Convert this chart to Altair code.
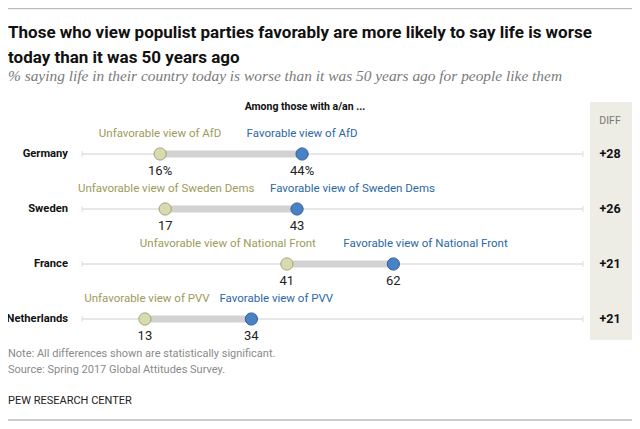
import altair as alt
import pandas as pd

countries = ["Germany", "Sweden", "France", "Netherlands"]
parties = ["AfD", "Sweden Dems", "National Front", "PVV"]
unfav = [16, 17, 41, 13]
fav = [44, 43, 62, 34]

# label placement: alignment and pixel nudge from the dot
unfav_align = ["center", "center", "right", "center"]
unfav_nudge = [0, 1, 29, 2]
fav_align = ["center", "left", "left", "left"]
fav_nudge = [0, -27, -50, -32]

title_lines = ["Those who view populist parties favorably are more likely to say life is worse",
               "today than it was 50 years ago"]
subtitle = "% saying life in their country today is worse than it was 50 years ago for people like them"
header = "Among those with a/an ..."
diff_header = "DIFF"
notes = ["Note: All differences shown are statistically significant.",
         "Source: Spring 2017 Global Attitudes Survey."]
credit = "PEW RESEARCH CENTER"

X0, X1 = 71, 578          # pixel range of 0..100
PX = (X1 - X0) / 100.0

df = pd.DataFrame({"country": countries, "party": parties, "unfav": unfav, "fav": fav})
df["unfav_txt"] = [f"{v}%" if i == 0 else str(v) for i, v in enumerate(unfav)]
df["fav_txt"] = [f"{v}%" if i == 0 else str(v) for i, v in enumerate(fav)]
df["diff"] = [f"+{f - u}" for u, f in zip(unfav, fav)]

lab_rows = []
for i, c in enumerate(countries):
    lab_rows.append({"country": c, "grp": "unfav", "t": "Unfavorable view of " + parties[i],
                     "x": unfav[i] + unfav_nudge[i] / PX, "align": unfav_align[i]})
    lab_rows.append({"country": c, "grp": "fav", "t": "Favorable view of " + parties[i],
                     "x": fav[i] + fav_nudge[i] / PX, "align": fav_align[i]})
labs = pd.DataFrame(lab_rows)

FONT = "Roboto"
W, H = 624, 413

xs = alt.Scale(domain=[0, 100], range=[X0, X1])
ys = alt.Scale(type="point", domain=countries, range=[146, 311], padding=0)
Y = alt.Y("country:N", scale=ys, axis=None)

base = alt.Chart(df)

diff_bg = alt.Chart(pd.DataFrame({"a": [0]})).mark_rect(color="#eeede5").encode(
    x=alt.value(582), x2=alt.value(624), y=alt.value(94), y2=alt.value(332))

baseline = base.mark_rule(color="#d0d0d0", strokeWidth=1).encode(
    x=alt.X(datum=0.6, scale=xs, axis=None), x2=alt.datum(99.4), y=Y)
endticks_l = base.mark_tick(color="#d0d0d0", orient="vertical", size=6, thickness=1).encode(
    x=alt.X(datum=0.6, scale=xs, axis=None), y=Y)
endticks_r = base.mark_tick(color="#d0d0d0", orient="vertical", size=6, thickness=1).encode(
    x=alt.X(datum=99.4, scale=xs, axis=None), y=Y)

bar = base.mark_rule(color="#d2d2d2", strokeWidth=7).encode(
    x=alt.X("unfav:Q", scale=xs, axis=None), x2="fav:Q", y=Y)

pt_unfav = base.mark_point(filled=True, size=150, fill="#d8dbb2", stroke="#a3a565",
                           strokeWidth=1, opacity=1).encode(
    x=alt.X("unfav:Q", scale=xs, axis=None), y=Y)
pt_fav = base.mark_point(filled=True, size=150, fill="#4a80c4", stroke="#2d5f9c",
                         strokeWidth=1, opacity=1).encode(
    x=alt.X("fav:Q", scale=xs, axis=None), y=Y)

lab_layers = []
for al in ["center", "left", "right"]:
    lab_layers.append(
        alt.Chart(labs).transform_filter(alt.datum.align == al).mark_text(
            font=FONT, fontSize=11.5, dy=-17, baseline="alphabetic", align=al).encode(
            x=alt.X("x:Q", scale=xs, axis=None), y=Y, text="t:N",
            color=alt.Color("grp:N", scale=alt.Scale(domain=["unfav", "fav"],
                                                     range=["#9c9b5b", "#2a68a6"]), legend=None)))

val_unfav = base.mark_text(font=FONT, fontSize=13, color="#222222", dy=21, baseline="alphabetic").encode(
    x=alt.X("unfav:Q", scale=xs, axis=None), y=Y, text="unfav_txt:N")
val_fav = base.mark_text(font=FONT, fontSize=13, color="#222222", dy=21, baseline="alphabetic").encode(
    x=alt.X("fav:Q", scale=xs, axis=None), y=Y, text="fav_txt:N")

country_lab = base.mark_text(font=FONT, fontSize=11.2, fontWeight="bold", color="#111111",
                             align="right", baseline="middle").encode(
    x=alt.value(60), y=Y, text="country:N")
diff_lab = base.mark_text(font=FONT, fontSize=12.5, fontWeight="bold", color="#111111",
                          align="center", baseline="middle").encode(
    x=alt.value(602), y=Y, text="diff:N")


def static_text(lines, x, y0, dy, **kw):
    return alt.layer(*[
        alt.Chart(pd.DataFrame({"t": [ln]})).mark_text(**kw).encode(
            x=alt.value(x), y=alt.value(y0 + k * dy), text="t:N")
        for k, ln in enumerate(lines)])


top_rule = alt.Chart(pd.DataFrame({"a": [0]})).mark_rule(color="#bdbdbd", strokeWidth=1.5).encode(
    x=alt.value(0), x2=alt.value(W), y=alt.value(0.5))
bot_rule = alt.Chart(pd.DataFrame({"a": [0]})).mark_rule(color="#bdbdbd", strokeWidth=1.5).encode(
    x=alt.value(0), x2=alt.value(W), y=alt.value(412))

title = static_text(title_lines, 0, 30, 25, font=FONT, fontSize=17, fontWeight="bold",
                    color="#111111", align="left", baseline="alphabetic")
sub = static_text([subtitle], 0, 73, 0, font="Liberation Serif", fontSize=15.4, fontStyle="italic",
                  color="#7a7a7a", align="left", baseline="alphabetic")
head = static_text([header], 297, 102, 0, font=FONT, fontSize=10.5, fontWeight="bold",
                   color="#111111", align="center", baseline="alphabetic")
dhead = static_text([diff_header], 602, 116, 0, font=FONT, fontSize=10.5, color="#777777",
                    align="center", baseline="alphabetic")
note = static_text(notes, 0, 349, 16, font=FONT, fontSize=11, color="#8a8a8a",
                   align="left", baseline="alphabetic")
cred = static_text([credit], 0, 396, 0, font=FONT, fontSize=11, color="#222222",
                   align="left", baseline="alphabetic")

chart = alt.layer(
    diff_bg, top_rule, bot_rule, baseline, endticks_l, endticks_r, bar, pt_unfav, pt_fav,
    *lab_layers, val_unfav, val_fav, country_lab, diff_lab,
    title, sub, head, dhead, note, cred,
).properties(width=W, height=H, padding=0, autosize=alt.AutoSizeParams(type="none")
).configure_view(stroke=None)

chart.save("out.html", embed_options={"renderer": "svg", "actions": False})
